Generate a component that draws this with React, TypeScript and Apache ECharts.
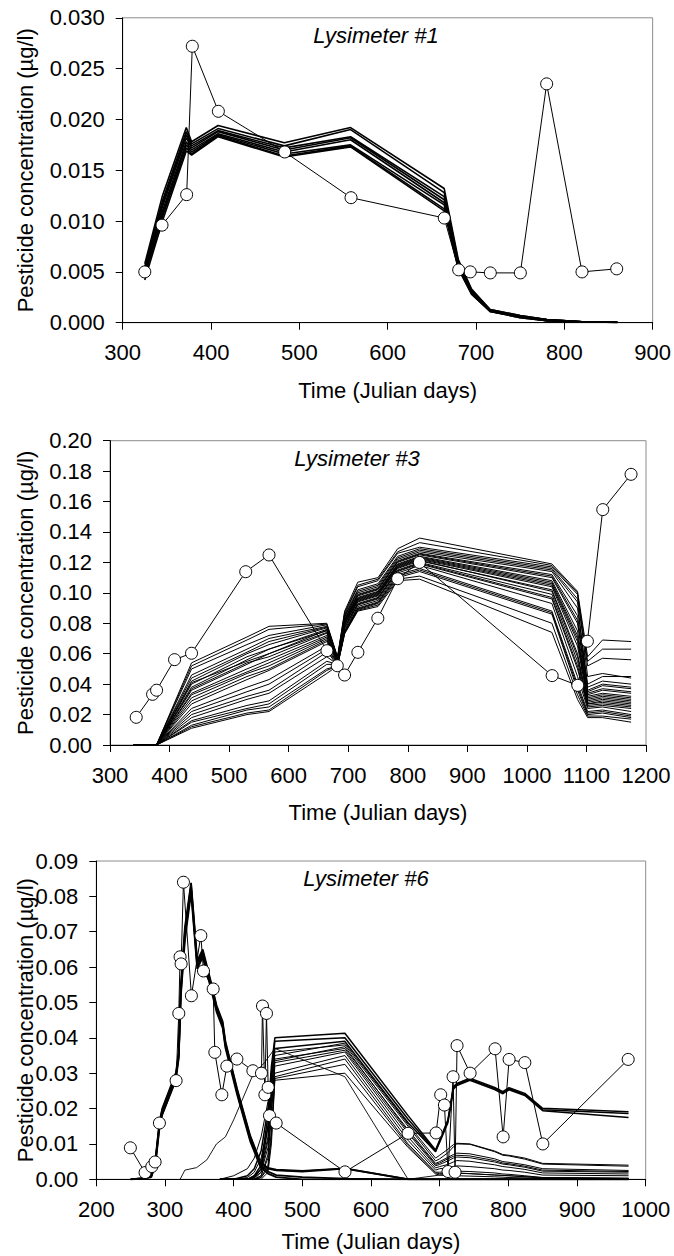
import React, { useEffect, useRef } from "react";
import * as echarts from "echarts";

// ---------------- Panel 1 : Lysimeter #1 ----------------
const OBS1_X = [325, 344.5, 372.4, 378.8, 408.3, 483.4, 558.5, 664.1, 680.4, 693.5, 716.2, 750.2, 780, 820, 859.3];
const OBS1_Y = [0.005, 0.0096, 0.0126, 0.0272, 0.0208, 0.0168, 0.0123, 0.0103, 0.0052, 0.005, 0.0049, 0.0049, 0.0235, 0.005, 0.0053];

const SIM1_X = [325, 345, 372, 378, 408, 483, 558, 664, 680, 695, 716, 750, 780, 820, 860];
const SIM1 = [
  [0.0058, 0.0125, 0.0192, 0.0178, 0.0194, 0.0177, 0.0192, 0.0132, 0.0062, 0.0033, 0.0013, 0.0007, 0.0003, 0.0001, 0.00005],
  [0.0055, 0.012, 0.0188, 0.0176, 0.0191, 0.0174, 0.019, 0.0128, 0.006, 0.0032, 0.0013, 0.0007, 0.0003, 0.0001, 0.00005],
  [0.0053, 0.0117, 0.0185, 0.0174, 0.0189, 0.0172, 0.0183, 0.0124, 0.0058, 0.0031, 0.0012, 0.0006, 0.0003, 0.0001, 0.00004],
  [0.0051, 0.0114, 0.0182, 0.0172, 0.0188, 0.017, 0.0182, 0.0121, 0.0057, 0.003, 0.0012, 0.0006, 0.0003, 0.0001, 0.00004],
  [0.005, 0.011, 0.0178, 0.017, 0.0186, 0.0168, 0.018, 0.0118, 0.0056, 0.003, 0.0012, 0.0006, 0.0002, 0.0001, 0.00004],
  [0.0048, 0.0107, 0.0175, 0.0168, 0.0185, 0.0166, 0.0175, 0.0116, 0.0055, 0.0029, 0.0011, 0.0006, 0.0002, 0.0001, 0.00003],
  [0.0046, 0.0104, 0.0172, 0.0166, 0.0184, 0.0164, 0.0174, 0.0112, 0.0054, 0.0028, 0.0011, 0.0005, 0.0002, 0.0001, 0.00003],
  [0.0042, 0.01, 0.0169, 0.0165, 0.0183, 0.0163, 0.0173, 0.011, 0.0053, 0.0028, 0.0011, 0.0005, 0.0002, 0.0001, 0.00003],
];

// ---------------- Panel 2 : Lysimeter #3 ----------------
const OBS2_X = [344, 371.5, 378.2, 408.4, 436.9, 527.9, 567, 664.3, 681.6, 693.9, 716.2, 749.7, 783, 819.5, 1042.4, 1085.4, 1101.6, 1127.4, 1174.9];
const OBS2_Y = [0.0182, 0.0333, 0.036, 0.0561, 0.0603, 0.1139, 0.1249, 0.062, 0.0521, 0.046, 0.0609, 0.0833, 0.1093, 0.12, 0.0456, 0.0392, 0.0682, 0.1547, 0.1779];

const SIM2_X = [340, 378, 437, 530, 567, 664, 682, 694, 716, 750, 783, 820, 1042, 1085, 1102, 1127, 1175];
const SIM2 = [
  [0, 0, 0.054, 0.071, 0.078, 0.08, 0.058, 0.088, 0.107, 0.11, 0.129, 0.136, 0.119, 0.101, 0.058, 0.069, 0.068],
  [0, 0, 0.052, 0.069, 0.076, 0.0795, 0.0575, 0.087, 0.105, 0.109, 0.127, 0.133, 0.118, 0.1, 0.045, 0.047, 0.044],
  [0, 0, 0.05, 0.066, 0.072, 0.079, 0.057, 0.086, 0.104, 0.108, 0.126, 0.13, 0.117, 0.099, 0.055, 0.063, 0.063],
  [0, 0, 0.046, 0.063, 0.07, 0.078, 0.057, 0.085, 0.102, 0.106, 0.124, 0.129, 0.116, 0.096, 0.052, 0.057, 0.056],
  [0, 0, 0.044, 0.061, 0.068, 0.0775, 0.0565, 0.0845, 0.101, 0.105, 0.123, 0.128, 0.115, 0.094, 0.036, 0.04, 0.038],
  [0, 0, 0.042, 0.06, 0.066, 0.077, 0.056, 0.084, 0.1, 0.104, 0.122, 0.127, 0.114, 0.09, 0.04, 0.045, 0.045],
  [0, 0, 0.041, 0.055, 0.06, 0.0755, 0.056, 0.0825, 0.0985, 0.1025, 0.1205, 0.1255, 0.111, 0.082, 0.034, 0.037, 0.035],
  [0, 0, 0.04, 0.058, 0.063, 0.076, 0.056, 0.083, 0.099, 0.103, 0.121, 0.126, 0.112, 0.085, 0.038, 0.042, 0.04],
  [0, 0, 0.038, 0.056, 0.063, 0.075, 0.056, 0.082, 0.098, 0.102, 0.12, 0.125, 0.11, 0.08, 0.035, 0.039, 0.037],
  [0, 0, 0.037, 0.054, 0.058, 0.0735, 0.0555, 0.0815, 0.0965, 0.1005, 0.1185, 0.1235, 0.107, 0.072, 0.031, 0.033, 0.031],
  [0, 0, 0.036, 0.053, 0.06, 0.074, 0.055, 0.082, 0.097, 0.101, 0.119, 0.124, 0.108, 0.075, 0.033, 0.036, 0.034],
  [0, 0, 0.034, 0.05, 0.056, 0.072, 0.055, 0.081, 0.096, 0.1, 0.118, 0.123, 0.106, 0.07, 0.032, 0.034, 0.032],
  [0, 0, 0.033, 0.048, 0.054, 0.071, 0.055, 0.0805, 0.0955, 0.0995, 0.1175, 0.1225, 0.105, 0.068, 0.029, 0.031, 0.029],
  [0, 0, 0.031, 0.047, 0.052, 0.07, 0.055, 0.08, 0.095, 0.099, 0.117, 0.122, 0.104, 0.065, 0.03, 0.032, 0.03],
  [0, 0, 0.029, 0.045, 0.05, 0.069, 0.0545, 0.0795, 0.0945, 0.0985, 0.1165, 0.1215, 0.101, 0.058, 0.027, 0.029, 0.027],
  [0, 0, 0.027, 0.043, 0.049, 0.068, 0.054, 0.079, 0.094, 0.098, 0.116, 0.121, 0.102, 0.06, 0.028, 0.03, 0.028],
  [0, 0, 0.024, 0.038, 0.043, 0.065, 0.054, 0.078, 0.093, 0.097, 0.115, 0.12, 0.099, 0.055, 0.027, 0.028, 0.026],
  [0, 0, 0.022, 0.035, 0.04, 0.063, 0.054, 0.0775, 0.0925, 0.0965, 0.1145, 0.1195, 0.097, 0.052, 0.026, 0.027, 0.025],
  [0, 0, 0.02, 0.032, 0.036, 0.061, 0.054, 0.077, 0.092, 0.096, 0.114, 0.119, 0.096, 0.05, 0.025, 0.026, 0.024],
  [0, 0, 0.018, 0.03, 0.034, 0.058, 0.053, 0.076, 0.091, 0.095, 0.113, 0.118, 0.093, 0.045, 0.024, 0.025, 0.022],
  [0, 0, 0.016, 0.026, 0.029, 0.055, 0.053, 0.075, 0.09, 0.094, 0.112, 0.116, 0.088, 0.04, 0.022, 0.023, 0.02],
  [0, 0, 0.015, 0.024, 0.027, 0.053, 0.053, 0.0745, 0.0895, 0.0935, 0.111, 0.115, 0.087, 0.038, 0.021, 0.022, 0.019],
  [0, 0, 0.013, 0.023, 0.025, 0.05, 0.052, 0.074, 0.089, 0.093, 0.11, 0.114, 0.086, 0.036, 0.02, 0.021, 0.018],
  [0, 0, 0.012, 0.021, 0.023, 0.049, 0.052, 0.0735, 0.0885, 0.092, 0.109, 0.111, 0.08, 0.033, 0.019, 0.019, 0.017],
  [0, 0, 0.011, 0.02, 0.022, 0.047, 0.052, 0.073, 0.088, 0.091, 0.108, 0.109, 0.074, 0.03, 0.018, 0.018, 0.015],
];

// ---------------- Panel 3 : Lysimeter #6 ----------------
const OBS3_X = [249.6, 271, 280.8, 285.6, 291.9, 316.2, 320.1, 322, 323.5, 326.9, 338.5, 352.2, 356.1, 370.2, 372.6, 382.8, 390.1, 404.7, 428, 440.5, 442, 445.5, 447.8, 450.3, 452.2, 461.9, 562.1, 654, 694.8, 701.5, 706.9, 712.2, 719.5, 722.4, 725.3, 744.3, 780.7, 792.4, 801.1, 824, 850.2, 974.5];
const OBS3_Y = [0.0089, 0.0019, 0.0036, 0.0049, 0.0159, 0.0279, 0.0469, 0.0629, 0.0609, 0.084, 0.0519, 0.0689, 0.0589, 0.0538, 0.0359, 0.0239, 0.032, 0.034, 0.0307, 0.03, 0.049, 0.0239, 0.0469, 0.026, 0.018, 0.0159, 0.0021, 0.013, 0.0131, 0.0239, 0.021, 0.0022, 0.029, 0.002, 0.0378, 0.03, 0.0369, 0.012, 0.0339, 0.033, 0.01, 0.0339];

// early breakthrough bundle
const EARLY3_X = [250, 270, 280, 286, 292, 296, 316, 320, 323, 329, 338, 347, 355, 368, 375, 384, 388, 405, 424, 439, 450, 462, 500, 562, 655, 975];
const EARLY3 = [
  [0, 0.0004, 0.0012, 0.0055, 0.0162, 0.02, 0.0302, 0.0358, 0.0545, 0.0712, 0.0838, 0.0618, 0.065, 0.055, 0.0492, 0.0446, 0.039, 0.0256, 0.0124, 0.0048, 0.0032, 0.0027, 0.0024, 0.0031, 0, 0],
  [0, 0.0003, 0.001, 0.005, 0.0158, 0.0196, 0.0297, 0.0354, 0.0536, 0.07, 0.0832, 0.0611, 0.0644, 0.0545, 0.0488, 0.0441, 0.0385, 0.0252, 0.012, 0.0045, 0.003, 0.0025, 0.0022, 0.003, 0, 0],
  [0, 0.0002, 0.0008, 0.0045, 0.0152, 0.019, 0.029, 0.0348, 0.0525, 0.0688, 0.0822, 0.0602, 0.0636, 0.0538, 0.0481, 0.0434, 0.0378, 0.0246, 0.0114, 0.004, 0.0022, 0.0012, 0.0006, 0.0002, 0, 0],
  [0, 0.0002, 0.0006, 0.004, 0.0146, 0.0184, 0.0284, 0.0342, 0.0515, 0.0676, 0.081, 0.0595, 0.0628, 0.0531, 0.0474, 0.0428, 0.0372, 0.024, 0.0108, 0.0035, 0.0016, 0.0006, 0, 0, 0, 0],
];

// late breakthrough family
const LATE3_X = [380, 400, 420, 430, 440, 450, 455, 460, 562, 654, 694, 700, 712, 720, 725, 744, 780, 792, 801, 824, 850, 975];
const LATE3 = [
  [0, 0, 0, 0.001, 0.004, 0.018, 0.032, 0.04, 0.0413, 0.018, 0.0083, 0.0111, 0.0168, 0.0262, 0.0271, 0.0286, 0.026, 0.0248, 0.0259, 0.0243, 0.0201, 0.0191],
  [0, 0, 0, 0.0005, 0.003, 0.015, 0.03, 0.039, 0.04, 0.017, 0.008, 0.0108, 0.0165, 0.0258, 0.0268, 0.0283, 0.0257, 0.0245, 0.0256, 0.024, 0.0197, 0.0186],
  [0, 0, 0.001, 0.003, 0.008, 0.02, 0.03, 0.037, 0.039, 0.016, 0.0078, 0.0105, 0.016, 0.0255, 0.0265, 0.028, 0.0254, 0.0242, 0.0253, 0.0237, 0.0194, 0.0175],
  [0, 0, 0, 0.001, 0.003, 0.012, 0.026, 0.036, 0.038, 0.015, 0.0052, 0.0058, 0.0075, 0.0092, 0.01, 0.0099, 0.0078, 0.0068, 0.0066, 0.0057, 0.0043, 0.0037],
  [0, 0, 0, 0.0005, 0.002, 0.011, 0.025, 0.035, 0.0385, 0.0155, 0.006, 0.0068, 0.0085, 0.0098, 0.0102, 0.01, 0.008, 0.007, 0.0068, 0.006, 0.0045, 0.004],
  [0, 0.001, 0.003, 0.006, 0.012, 0.022, 0.029, 0.034, 0.037, 0.014, 0.0045, 0.005, 0.0062, 0.007, 0.0074, 0.0072, 0.0058, 0.005, 0.0048, 0.0041, 0.003, 0.0025],
  [0, 0, 0, 0, 0.001, 0.007, 0.02, 0.0335, 0.0375, 0.0135, 0.0042, 0.0046, 0.0058, 0.0065, 0.0068, 0.0066, 0.0053, 0.0046, 0.0044, 0.0037, 0.0026, 0.0022],
  [0, 0, 0, 0, 0.002, 0.009, 0.022, 0.033, 0.0365, 0.013, 0.0038, 0.0042, 0.0052, 0.006, 0.0063, 0.0061, 0.0049, 0.0043, 0.0041, 0.0034, 0.0023, 0.002],
  [0, 0, 0, 0, 0.001, 0.006, 0.018, 0.032, 0.036, 0.012, 0.0032, 0.0036, 0.0042, 0.0049, 0.0053, 0.0051, 0.0041, 0.0036, 0.0034, 0.0028, 0.0018, 0.0015],
  [0, 0, 0.0005, 0.002, 0.006, 0.015, 0.024, 0.03, 0.035, 0.011, 0.0026, 0.003, 0.0032, 0.0036, 0.0038, 0.0036, 0.003, 0.0026, 0.0025, 0.002, 0.0012, 0.001],
  [0, 0, 0, 0, 0.0005, 0.004, 0.014, 0.029, 0.034, 0.01, 0.002, 0.002, 0.0022, 0.0022, 0.0023, 0.0022, 0.0018, 0.0015, 0.0014, 0.001, 0.0005, 0.0003],
  [0, 0, 0, 0, 0.0005, 0.003, 0.012, 0.0285, 0.0325, 0.0095, 0.0018, 0.0016, 0.0016, 0.0016, 0.0017, 0.0016, 0.0012, 0.0011, 0.001, 0.0007, 0.0004, 0.0002],
  [0, 0, 0, 0, 0, 0.002, 0.01, 0.028, 0.03, 0.009, 0.0015, 0.0012, 0.001, 0.001, 0.001, 0.0009, 0.0007, 0.0006, 0.0005, 0.0004, 0.0002, 0.0001],
];

// single slow-rising member
const SLOW3_X = [322, 329, 346, 361, 375, 388, 400, 428, 445, 460, 562, 654, 712, 725, 850, 975];
const SLOW3_Y = [0, 0.0026, 0.0033, 0.0055, 0.01, 0.012, 0.0168, 0.0295, 0.033, 0.037, 0.029, 0, 0.0015, 0.0018, 0.0005, 0.0003];

// ---------------- axes ----------------
const X_TICKS = [
  { min: 300, max: 900, step: 100 },
  { min: 300, max: 1200, step: 100 },
  { min: 200, max: 1000, step: 100 },
];
const Y_TICKS = [
  { min: 0, max: 0.03, step: 0.005, dec: 3 },
  { min: 0, max: 0.2, step: 0.02, dec: 2 },
  { min: 0, max: 0.09, step: 0.01, dec: 2 },
];
const PANEL_TITLES = ["Lysimeter #1", "Lysimeter #3", "Lysimeter #6"];
const X_TITLE = "Time (Julian days)";
const Y_TITLE = "Pesticide concentration (\u00b5g/l)";

const FONT = "'Liberation Sans', Arial, Helvetica, sans-serif";

const GRIDS = [
  { left: 122.7, top: 17.8, width: 530, height: 304.9 },
  { left: 110, top: 440.7, width: 536, height: 304.3 },
  { left: 96.3, top: 861, width: 549.4, height: 318.3 },
];
const X_TITLE_Y = [390, 812.5, 1241.5];
const PANEL_TITLE_POS = [
  [376, 35],
  [357, 458],
  [366, 878],
];

function pairs(xs: number[], ys: number[]) {
  return xs.map((x, i) => [x, ys[i]]);
}

export default function App() {
  const ref = useRef<HTMLDivElement>(null);

  useEffect(() => {
    if (!ref.current) return;
    const chart = echarts.init(ref.current, null, { renderer: "svg" });

    const simLine = (idx: number, xs: number[], ys: number[], width: number) => ({
      type: "line",
      xAxisIndex: idx,
      yAxisIndex: idx,
      data: pairs(xs, ys),
      symbol: "none",
      silent: true,
      z: 2,
      lineStyle: { color: "#000", width },
    });
    const obsLine = (idx: number, xs: number[], ys: number[]) => ({
      type: "line",
      xAxisIndex: idx,
      yAxisIndex: idx,
      data: pairs(xs, ys),
      symbol: "circle",
      symbolSize: 12,
      silent: true,
      z: 5,
      itemStyle: { color: "#fff", borderColor: "#000", borderWidth: 1 },
      lineStyle: { color: "#000", width: 1 },
    });

    const series: any[] = [];
    SIM1.forEach((ys) => series.push(simLine(0, SIM1_X, ys, 1.6)));
    series.push(obsLine(0, OBS1_X, OBS1_Y));
    SIM2.forEach((ys) => series.push(simLine(1, SIM2_X, ys, 1)));
    series.push(obsLine(1, OBS2_X, OBS2_Y));
    EARLY3.forEach((ys) => series.push(simLine(2, EARLY3_X, ys, 1.8)));
    LATE3.forEach((ys, i) => series.push(simLine(2, LATE3_X, ys, i < 3 ? 1.5 : 1)));
    series.push(simLine(2, SLOW3_X, SLOW3_Y, 0.9));
    series.push(obsLine(2, OBS3_X, OBS3_Y));

    const graphic: any[] = [];
    GRIDS.forEach((g, i) => {
      graphic.push({
        type: "text",
        x: 25,
        y: g.top + g.height / 2,
        rotation: Math.PI / 2,
        silent: true,
        style: {
          text: Y_TITLE,
          fontFamily: FONT,
          fontSize: 22,
          fill: "#000",
          align: "center",
          verticalAlign: "middle",
        },
      });
      graphic.push({
        type: "text",
        x: g.left + g.width / 2,
        y: X_TITLE_Y[i],
        silent: true,
        style: {
          text: X_TITLE,
          fontFamily: FONT,
          fontSize: 22,
          fill: "#000",
          align: "center",
          verticalAlign: "middle",
        },
      });
      graphic.push({
        type: "text",
        x: PANEL_TITLE_POS[i][0],
        y: PANEL_TITLE_POS[i][1],
        silent: true,
        style: {
          text: PANEL_TITLES[i],
          fontFamily: FONT,
          fontSize: 22,
          fontStyle: "italic",
          fill: "#000",
          align: "center",
          verticalAlign: "middle",
        },
      });
    });

    const option: any = {
      animation: false,
      backgroundColor: "#fff",
      grid: GRIDS.map((g) => ({
        ...g,
        show: true,
        borderColor: "#8c8c8c",
        borderWidth: 1,
        backgroundColor: "transparent",
        containLabel: false,
      })),
      xAxis: X_TICKS.map((t, i) => ({
        type: "value",
        gridIndex: i,
        min: t.min,
        max: t.max,
        interval: t.step,
        splitLine: { show: false },
        axisLine: { show: true, onZero: false, lineStyle: { color: "#000", width: 1 } },
        axisTick: { show: true, inside: false, length: 7, lineStyle: { color: "#000", width: 1 } },
        axisLabel: {
          color: "#000",
          fontFamily: FONT,
          fontSize: 22,
          margin: 19,
          formatter: (v: number) => String(Math.round(v)),
        },
      })),
      yAxis: Y_TICKS.map((t, i) => ({
        type: "value",
        gridIndex: i,
        min: t.min,
        max: t.max,
        interval: t.step,
        splitLine: { show: false },
        axisLine: { show: true, onZero: false, lineStyle: { color: "#000", width: 1 } },
        axisTick: { show: true, inside: false, length: 7, lineStyle: { color: "#000", width: 1 } },
        axisLabel: {
          color: "#000",
          fontFamily: FONT,
          fontSize: 22,
          margin: 18,
          formatter: (v: number) => v.toFixed(t.dec),
        },
      })),
      series,
      graphic,
    };

    chart.setOption(option);
    return () => chart.dispose();
  }, []);

  return (
    <div
      ref={ref}
      style={{ position: "absolute", left: 0, top: 0, width: 674, height: 1256, background: "#fff" }}
    />
  );
}
